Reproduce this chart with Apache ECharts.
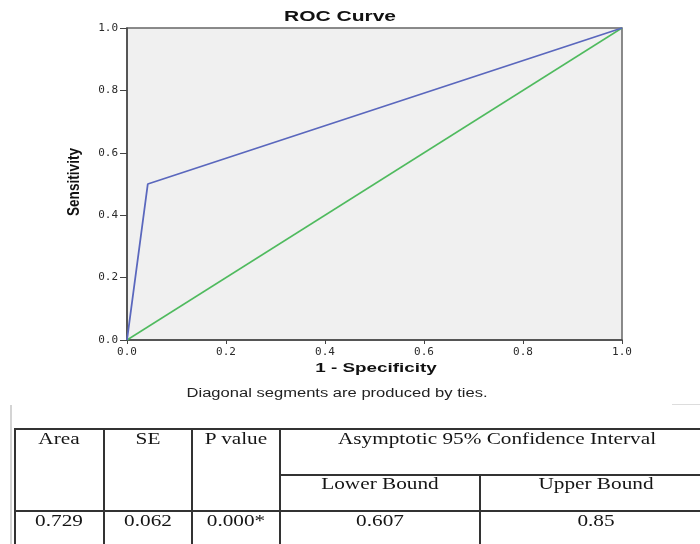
<!DOCTYPE html>
<html><head><meta charset="utf-8">
<script src="https://cdn.jsdelivr.net/npm/echarts@6/dist/echarts.min.js"></script>
<style>
html,body{margin:0;padding:0;background:#fff;}
#wrap{position:relative;width:700px;height:544px;overflow:hidden;}
#chart{position:absolute;left:0;top:0;width:700px;height:544px;}
.ln{position:absolute;background:#333;}
.tx{position:absolute;font-family:"Liberation Serif","DejaVu Serif",serif;font-size:17px;color:#151515;white-space:nowrap;line-height:17px;transform:translateX(-50%) scaleX(1.25);}
</style></head>
<body><div id="wrap"><div id="chart"></div><div id="tbl"></div></div>
<script>
var rocX = [0, 0.042, 1];
var rocY = [0, 0.5, 1];
var refX = [0, 1];
var refY = [0, 1];
var tableHead = ["Area", "SE", "P value", "Asymptotic 95% Confidence Interval"];
var tableSub = ["Lower Bound", "Upper Bound"];
var tableRow = ["0.729", "0.062", "0.000*", "0.607", "0.85"];

function pairs(xs, ys){ return xs.map(function(x,i){return [x, ys[i]];}); }

var chart = echarts.init(document.getElementById('chart'));
var lab = {color:'#2a2a2a', fontFamily:'DejaVu Sans Mono', fontSize:11, formatter:function(v){return v.toFixed(1);}};
chart.setOption({
  animation:false,
  graphic:[
    {type:'text', x:340, y:17, scaleX:1.5, style:{text:'ROC Curve', textAlign:'center', textVerticalAlign:'middle',
      font:'bold 14px "Liberation Sans"', fill:'#111'}},
    {type:'text', x:376, y:368, scaleX:1.45, style:{text:'1 - Specificity', textAlign:'center', textVerticalAlign:'middle',
      font:'bold 13px "Liberation Sans"', fill:'#111'}},
    {type:'text', x:75, y:182, rotation:Math.PI/2, scaleX:0.85, style:{text:'Sensitivity', textAlign:'center', textVerticalAlign:'middle',
      font:'bold 16px "Liberation Sans"', fill:'#111'}},
    {type:'text', x:337, y:394, scaleX:1.38, style:{text:'Diagonal segments are produced by ties.', textAlign:'center', textVerticalAlign:'middle',
      font:'12px "Liberation Sans"', fill:'#222'}}
  ],
  grid:{left:127, top:28, width:495, height:312, show:true, backgroundColor:'#f0f0f0', borderColor:'#666', borderWidth:1.5},
  xAxis:{type:'value', min:0, max:1, interval:0.2,
    axisLine:{show:true, lineStyle:{color:'#444', width:1.5}},
    axisTick:{show:true, length:4, lineStyle:{color:'#444'}},
    splitLine:{show:false}, axisLabel:Object.assign({margin:7}, lab)},
  yAxis:{type:'value', min:0, max:1, interval:0.2,
    axisLine:{show:true, lineStyle:{color:'#444', width:1.5}},
    axisTick:{show:true, length:7, lineStyle:{color:'#444'}},
    splitLine:{show:false}, axisLabel:Object.assign({margin:9}, lab)},
  series:[
    {type:'line', data:pairs(refX, refY), symbol:'none', lineStyle:{color:'#4fba5e', width:1.5}},
    {type:'line', data:pairs(rocX, rocY), symbol:'none', lineStyle:{color:'#5a67bd', width:1.8}}
  ]
});

// table drawn with plain HTML lines + text
var tbl = document.getElementById('tbl');
var html = '';
function line(l,t,w,h,c){ html += '<div class="ln" style="left:'+l+'px;top:'+t+'px;width:'+w+'px;height:'+h+'px;'+(c?'background:'+c:'')+'"></div>'; }
function text(cx,t,s){ html += '<div class="tx" style="left:'+cx+'px;top:'+t+'px">'+s+'</div>'; }
line(10,405,2,139,'#d4d4d4');
line(672,404,28,1,'#ddd');
line(14,428,686,2);
line(280,474,420,2);
line(14,510,686,2);
[14,103,191,279].forEach(function(x){ line(x,428,2,116); });
line(479,474,2,70);
var hx = [59,148,236,497];
for (var i=0;i<4;i++) text(hx[i],430,tableHead[i]);
text(380,475,tableSub[0]); text(596,475,tableSub[1]);
var dx = [59,148,236,380,596];
for (var j=0;j<5;j++) text(dx[j],512,tableRow[j]);
tbl.innerHTML = html;
</script></body></html>
